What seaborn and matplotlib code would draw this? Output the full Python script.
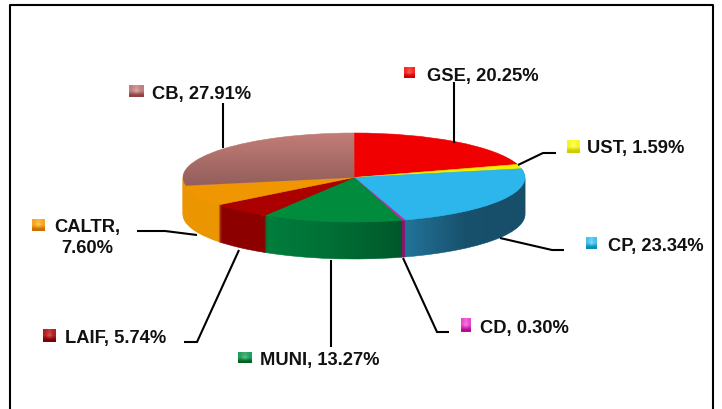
"""
Recreates the flattened 3D portfolio pie with leader-line labels.
"""

import numpy as np
import matplotlib
matplotlib.use("Agg")
import matplotlib.pyplot as plt
from matplotlib.patches import Polygon
import seaborn as sns

sns.set_theme(style="white")
plt.rcParams["font.family"] = ["Liberation Sans", "DejaVu Sans"]

# ====================== DATA ======================
categories = ["GSE", "UST", "CP", "CD", "MUNI", "LAIF", "CALTR", "CB"]
shares = [20.25, 1.59, 23.34, 0.30, 13.27, 5.74, 7.60, 27.91]
label_texts = ["GSE, 20.25%", "UST, 1.59%", "CP, 23.34%", "CD, 0.30%",
               "MUNI, 13.27%", "LAIF, 5.74%", "CALTR,\n7.60%", "CB, 27.91%"]
top_colors = ["#f00000", "#f0f000", "#2cb6ec", "#c828aa",
              "#008c3c", "#aa0000", "#f09600", "#c37d78"]
side_colors = ["#a00000", "#a0a000", "#22739a", "#8c146e",
               "#007d3c", "#8c0000", "#eb9600", "#eb9600"]
key_colors = ["#e81010", "#e8e810", "#35b0d8", "#d838b8",
              "#0f8a4a", "#a00808", "#e89408", "#b06c6c"]

# ====================== LAYOUT (pixels) ======================
W, H = 722, 409
CX, CY, RX, RY, DEPTH = 354, 177.5, 171, 44.5, 37

label_pos = [(427, 76), (587, 149), (608, 246), (480, 328),
             (260, 360), (65, 338), (87, 238), (152, 95)]
key_boxes = [(404, 67, 11, 11), (567, 140, 13, 13), (586, 237, 11, 12), (461, 318, 10, 14),
             (238, 352, 14, 11), (43, 329, 13, 13), (32, 219, 13, 12), (129, 85, 15, 12)]
leaders = [
    [(454, 82), (454, 143)],
    [(518, 165), (543, 153), (556, 153)],
    [(500, 238), (552, 250), (564, 250)],
    [(403, 258), (437, 332), (449, 332)],
    [(331, 260), (331, 347)],
    [(239, 250), (197, 342), (184, 342)],
    [(197, 235), (165, 231), (137, 231)],
    [(223, 103), (223, 148)],
]

fig = plt.figure(figsize=(W / 100, H / 100), dpi=100, facecolor="white")

# Pie axes: one data unit is RX px across and RY px down, so the circle flattens
ax = fig.add_axes([0, 0, 1, 1])
limits = dict(xlim=(-CX / RX, (W - CX) / RX), ylim=((CY - H) / RY, CY / RY))


def draw_layer(colors, offset, zorder):
    wedges, _ = ax.pie(shares, colors=colors, startangle=90, counterclock=False,
                       center=(0, offset), radius=1, frame=False)
    for w in wedges:
        w.set_edgecolor(w.get_facecolor())
        w.set_linewidth(0.4)
        w.set_zorder(zorder)
    return wedges


# Side wall: stacked pies from the bottom up
for d in np.arange(DEPTH, 0, -1.0):
    draw_layer(side_colors, -d / RY, 1)
top = draw_layer(top_colors, 0, 3)

# Darkening across the front walls
edges = np.concatenate([[0], np.cumsum(shares)]) * 3.6
depth_u = DEPTH / RY


def shade_side(i, stops_x, stops_a):
    # only the front half of the rim (90 to 270 degrees) is visible
    t = np.radians(np.linspace(max(edges[i], 90), min(edges[i + 1], 270), 60))
    xs, ys = np.sin(t), np.cos(t)
    outline = np.vstack([np.column_stack([xs, ys]),
                         np.column_stack([xs[::-1], ys[::-1] - depth_u])])
    x0, x1 = xs.min(), xs.max()
    col = np.linspace(0, 1, 256)
    grad = np.zeros((1, 256, 4))
    grad[0, :, 3] = np.interp(col, stops_x, stops_a)
    im = ax.imshow(grad, extent=(x0, x1, -1 - depth_u, 1), aspect="auto", zorder=2)
    clip = Polygon(outline, transform=ax.transData)
    im.set_clip_path(clip)


shade_side(2, [0, 0.5, 1], [0.0, 0.3, 0.32])
shade_side(4, [0, 0.45, 1], [0.0, 0.1, 0.3])

# Vertical falloff on the CB top face
grad = np.zeros((256, 1, 4))
grad[:, 0, 3] = np.linspace(0.0, 0.25, 256)
cb_im = ax.imshow(grad, extent=(-1, 0, -0.2, 1), aspect="auto", zorder=4)
cb_im.set_clip_path(top[7])

ax.set_aspect("auto")
ax.set(**limits)
ax.axis("off")

# Overlay axes in image pixels for the frame, leaders and labels
ov = fig.add_axes([0, 0, 1, 1], facecolor="none")
ov.set_xlim(0, W)
ov.set_ylim(H, 0)
ov.axis("off")

ov.plot([10, 10, 713, 713], [H + 5, 5, 5, H + 5], color="black", lw=1.5)

for pts in leaders:
    xs, ys = zip(*pts)
    ov.plot(xs, ys, color="black", lw=1.5, solid_capstyle="butt", solid_joinstyle="miter")

for name, text, (x, y), box, col in zip(categories, label_texts, label_pos, key_boxes, key_colors):
    ha = "center" if name == "CALTR" else "left"
    ov.text(x, y, text, ha=ha, va="center", fontsize=13.2, fontweight="bold",
            color="#111111", linespacing=1.3)
    bx, by, bw, bh = box
    rgb = np.array(matplotlib.colors.to_rgb(col))
    glow = np.array([[0.1, 0.2, 0.1], [0.1, 0.3, 0.1], [-0.2, -0.2, -0.2]])[..., None]
    key = np.clip(rgb + glow * (1 - rgb * 0.5), 0, 1)
    ov.imshow(key, extent=(bx, bx + bw, by + bh, by), aspect="auto", interpolation="bilinear", zorder=3)

ov.set_xlim(0, W)
ov.set_ylim(H, 0)

fig.savefig("out.png", dpi=100)
